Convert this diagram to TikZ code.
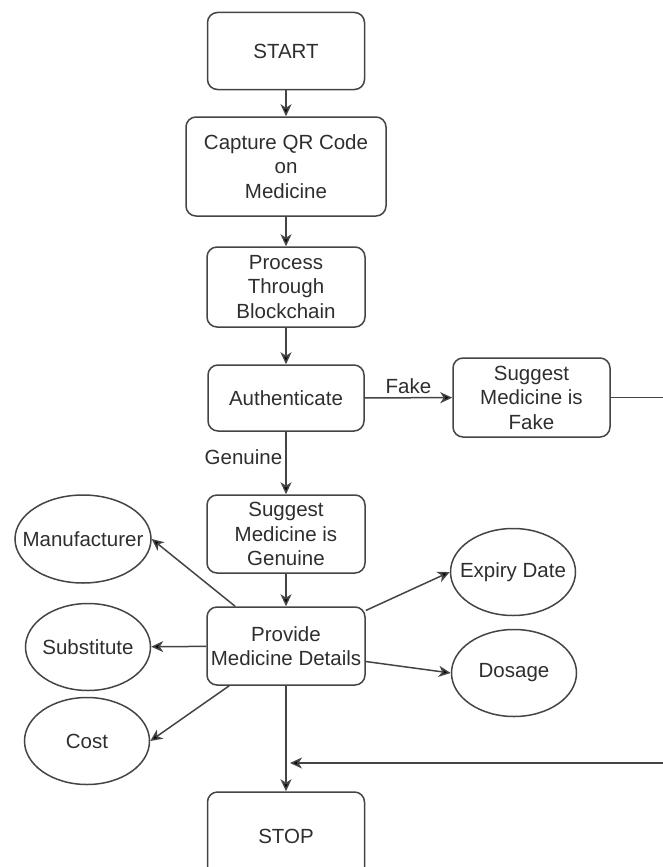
\documentclass[tikz,border=0pt]{standalone}
\usepackage{fontspec}
\setmainfont{Liberation Sans}
\usetikzlibrary{shapes.geometric,arrows.meta}
\definecolor{linegray}{HTML}{444444}
\definecolor{textgray}{HTML}{2E2E2E}

\begin{document}
\begin{tikzpicture}[x=1pt,y=-1pt,
    txt/.style={text=textgray,font=\fontsize{20.5}{24.5}\selectfont},
    box/.style={txt,draw=linegray,line width=1.5pt,rounded corners=10pt,align=center,inner sep=0pt},
    oval/.style={ellipse,draw=linegray,line width=1.5pt,inner sep=0pt,minimum width=125pt,minimum height=87pt},
    arr/.style={draw=linegray,line width=1.5pt,-{Stealth[length=12pt,width=11pt,inset=3.5pt,fill=black]}},
    lab/.style={txt,inner sep=3pt}]
  \useasboundingbox (0,0) rectangle (662,867);

  \node[box,minimum width=157pt,minimum height=77pt] (start) at (286,51) {START};
  \node[box,minimum width=200pt,minimum height=99pt] (capture) at (286,166.5) {Capture QR Code\\on\\Medicine};
  \node[box,minimum width=158pt,minimum height=80pt] (process) at (286,287) {Process\\Through\\Blockchain};
  \node[box,minimum width=156pt,minimum height=66pt] (auth) at (286,398) {Authenticate};
  \node[box,minimum width=157pt,minimum height=79pt] (fake) at (531.5,397.5) {Suggest\\Medicine is\\Fake};
  \node[box,minimum width=158pt,minimum height=78pt] (genuine) at (286,534) {Suggest\\Medicine is\\Genuine};
  \node[box,minimum width=158pt,minimum height=78pt] (provide) at (286,646) {Provide\\Medicine Details};
  \node[box,minimum width=157pt,minimum height=88pt] (stop) at (286,836) {STOP};

  \node[oval,minimum width=136pt,minimum height=88pt,label={[txt]center:Manufacturer}] (manu) at (83,539) {};
  \node[oval,label={[txt]center:Substitute}] (subst) at (88,647) {};
  \node[oval,label={[txt]center:Cost}] (cost) at (87,741) {};
  \node[oval,label={[txt]center:Expiry Date}] (expiry) at (513,572) {};
  \node[oval,label={[txt]center:Dosage}] (dosage) at (514,673) {};

  \coordinate (rim) at (690,763);
  \coordinate (merge) at (290,763);

  \draw[arr] (start) -- (capture);
  \draw[arr] (capture) -- (process);
  \draw[arr] (process) -- (auth);
  \draw[arr] (auth) -- node[lab,above] {Fake} (fake);
  \draw[arr] (auth) -- node[lab,left,pos=0.4] {Genuine} (genuine);
  \draw[arr] (genuine) -- (provide);
  \draw[arr] (provide.142) -- (manu.east);
  \draw[arr] (provide) -- (subst);
  \draw[arr] (provide.215) -- (cost.east);
  \draw[arr] (provide.24) -- (expiry.west);
  \draw[arr] (provide.-11) -- (dosage.west);
  \draw[arr] (provide) -- (stop);
  \draw[arr] (fake.east) -| (rim) -- (merge);
\end{tikzpicture}
\end{document}
